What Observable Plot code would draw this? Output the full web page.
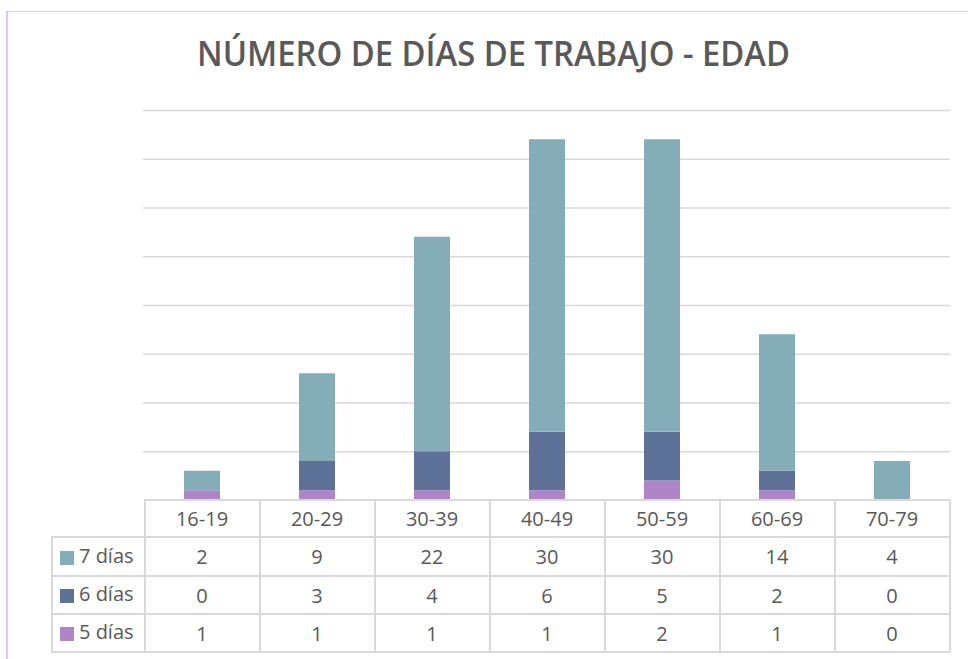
<!DOCTYPE html>
<html>
<head>
<meta charset="utf-8">
<script src="https://cdn.jsdelivr.net/npm/d3@7"></script>
<script src="https://cdn.jsdelivr.net/npm/@observablehq/plot@0.6"></script>
<style>
  html, body { margin: 0; padding: 0; background: #fff; }
  #wrap { position: relative; width: 968px; height: 659px; overflow: hidden; font-family: "Open Sans", sans-serif; color: #595959; }
  #borderLeft { position: absolute; left: 6px; top: 11px; width: 2px; height: 648px; background: #E6C2FB; }
  #borderTop { position: absolute; left: 6px; top: 11px; width: 962px; height: 1px; background: #E6C2FB; }
  #title { position: absolute; top: 33px; left: 0; white-space: nowrap; font-weight: 600; font-size: 33.5px; color: #595959; transform-origin: 0 0; line-height: 1.2; }
  #plot { position: absolute; left: 0; top: 90px; }
  .cell { position: absolute; box-sizing: border-box; display: flex; align-items: center; justify-content: center; font-size: 20px; color: #595959; }
  .hl { position: absolute; background: #D9D9D9; height: 2px; }
  .vl { position: absolute; background: #D9D9D9; width: 2px; }
  .sw { position: absolute; width: 14px; height: 14px; }
  .lab { position: absolute; font-size: 20px; color: #595959; line-height: 1; }
</style>
</head>
<body>
<div id="wrap">
  <div id="borderLeft"></div>
  <div id="borderTop"></div>
  <div id="title">NÚMERO DE DÍAS DE TRABAJO - EDAD</div>
  <div id="plot"></div>
  <div id="table"></div>
</div>
<script>
const categories = ["16-19", "20-29", "30-39", "40-49", "50-59", "60-69", "70-79"];
const series = ["7 días", "6 días", "5 días"];
const stackOrder = ["5 días", "6 días", "7 días"];
const values7 = [2, 9, 22, 30, 30, 14, 4];
const values6 = [0, 3, 4, 6, 5, 2, 0];
const values5 = [1, 1, 1, 1, 2, 1, 0];
const colors = ["#85ADB7", "#5E7199", "#AF85C7"];
const gridTicks = [5, 10, 15, 20, 25, 30, 35, 40];

const valuesBySeries = {"7 días": values7, "6 días": values6, "5 días": values5};
const data = [];
for (const s of stackOrder) {
  categories.forEach((c, i) => data.push({age: c, serie: s, value: valuesBySeries[s][i]}));
}

const chart = Plot.plot({
  width: 968,
  height: 412,
  marginLeft: 143,
  marginRight: 18,
  marginTop: 20,
  marginBottom: 2,
  x: {domain: categories, paddingInner: 0.69, paddingOuter: 0.345, axis: null},
  y: {domain: [0, 40], axis: null},
  color: {domain: series, range: colors},
  marks: [
    Plot.ruleY(gridTicks, {stroke: "#D9D9D9", strokeWidth: 1.5}),
    Plot.barY(data, {x: "age", y: "value", fill: "serie", order: stackOrder})
  ]
});
document.getElementById("plot").appendChild(chart);

// title centering
const title = document.getElementById("title");
const tw = title.getBoundingClientRect().width;
const targetW = 593;
const sx = targetW / tw;
title.style.transform = `scaleX(${sx})`;
title.style.left = (493.5 - targetW / 2) + "px";

// data table aligned with Plot's x scale
const xs = chart.scale("x");
const step = xs.step;
const top0 = 90 + 410; // baseline of plot in page coords
const colLeft = categories.map(c => xs.apply(c) + xs.bandwidth / 2 - step / 2);
const right = colLeft[colLeft.length - 1] + step;
const rowEdges = [top0, 537, 576, 614, 652];
const labelLeft = 52;
const table = d3.select("#table");

// horizontal lines
table.append("div").attr("class", "hl").style("left", colLeft[0] + "px").style("top", (rowEdges[0] - 1) + "px").style("width", (right - colLeft[0] + 1) + "px");
for (let r = 1; r < rowEdges.length; r++) {
  table.append("div").attr("class", "hl").style("left", labelLeft + "px").style("top", (rowEdges[r] - 1) + "px").style("width", (right - labelLeft + 1) + "px");
}
// vertical lines
table.append("div").attr("class", "vl").style("left", (labelLeft - 1) + "px").style("top", (rowEdges[1] - 1) + "px").style("height", (rowEdges[4] - rowEdges[1] + 2) + "px");
[...colLeft, right].forEach(x => {
  table.append("div").attr("class", "vl").style("left", (x - 1) + "px").style("top", (rowEdges[0] - 1) + "px").style("height", (rowEdges[4] - rowEdges[0] + 2) + "px");
});
// header
categories.forEach((c, i) => {
  table.append("div").attr("class", "cell")
    .style("left", colLeft[i] + "px").style("top", rowEdges[0] + "px")
    .style("width", step + "px").style("height", (rowEdges[1] - rowEdges[0]) + "px")
    .text(c);
});
// rows
series.forEach((s, r) => {
  const y0 = rowEdges[r + 1], y1 = rowEdges[r + 2];
  const mid = (y0 + y1) / 2;
  table.append("div").attr("class", "sw").style("left", "60px").style("top", (mid - 6) + "px").style("background", colors[r]);
  table.append("div").attr("class", "lab").style("left", "79px").style("top", (mid - 11) + "px").text(s);
  valuesBySeries[s].forEach((v, i) => {
    table.append("div").attr("class", "cell")
      .style("left", colLeft[i] + "px").style("top", y0 + "px")
      .style("width", step + "px").style("height", (y1 - y0) + "px")
      .text(v);
  });
});
</script>
</body>
</html>
